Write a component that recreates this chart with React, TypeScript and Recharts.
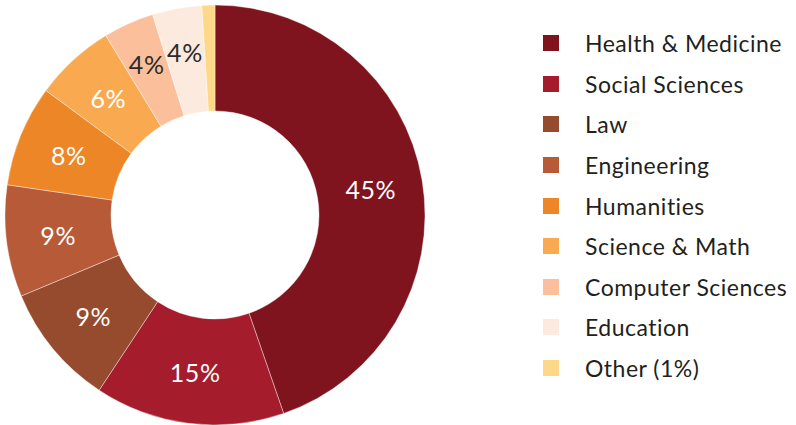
import { PieChart, Pie, Cell, Legend } from 'recharts'

const categories = [
  'Health & Medicine',
  'Social Sciences',
  'Law',
  'Engineering',
  'Humanities',
  'Science & Math',
  'Computer Sciences',
  'Education',
  'Other (1%)',
]
const shares = [44.7, 14.6, 9.4, 8.6, 7.8, 6.2, 3.9, 3.8, 1.0]
const sliceLabels = ['45%', '15%', '9%', '9%', '8%', '6%', '4%', '4%', '']
const colors = [
  '#7f141f',
  '#a51c2d',
  '#964a2e',
  '#b75a37',
  '#ec8626',
  '#f9aa50',
  '#fbc09b',
  '#fdeadf',
  '#fdd888',
]
const labelColors = ['#fff', '#fff', '#fff', '#fff', '#fff', '#fff', '#2b2b2b', '#2b2b2b', '#2b2b2b']

const data = categories.map((name, i) => ({ name, value: shares[i] }))

const FONT = 'Lato, "Open Sans", sans-serif'
const RAD = Math.PI / 180

function SliceLabel(props: any) {
  const { cx, cy, midAngle, index } = props
  const text = sliceLabels[index]
  if (!text) return null
  const r = index >= 6 ? 166 : 158
  const x = cx + r * Math.cos(-midAngle * RAD)
  const y = cy + r * Math.sin(-midAngle * RAD)
  return (
    <text
      x={x}
      y={y}
      fill={labelColors[index]}
      fontSize={25}
      letterSpacing={0.6}
      fontFamily={FONT}
      textAnchor="middle"
      dominantBaseline="central"
    >
      {text}
    </text>
  )
}

function LegendList() {
  return (
    <div style={{ fontFamily: FONT, fontSize: 23, letterSpacing: 0.5, color: '#231f20' }}>
      {categories.map((c, i) => (
        <div key={c} style={{ display: 'flex', alignItems: 'center', height: 40.6 }}>
          <span
            style={{
              display: 'inline-block',
              width: 16,
              height: 16,
              background: colors[i],
              marginRight: 26,
            }}
          />
          <span style={{ whiteSpace: 'nowrap' }}>{c}</span>
        </div>
      ))}
    </div>
  )
}

export default function App() {
  return (
    <div style={{ position: 'absolute', left: 0, top: 0, background: '#fff' }}>
      <PieChart width={796} height={425} margin={{ top: 0, right: 0, bottom: 0, left: 0 }}>
        <Pie
          data={data}
          dataKey="value"
          nameKey="name"
          cx={215}
          cy={215}
          innerRadius={104}
          outerRadius={210}
          startAngle={90}
          endAngle={-270}
          stroke="#fff"
          strokeWidth={0.4}
          label={SliceLabel}
          labelLine={false}
          isAnimationActive={false}
        >
          {data.map((d, i) => (
            <Cell key={d.name} fill={colors[i]} />
          ))}
        </Pie>
        <Legend
          layout="vertical"
          verticalAlign="top"
          align="right"
          content={() => <LegendList />}
          wrapperStyle={{ left: 543, top: 23, width: 253 }}
        />
      </PieChart>
    </div>
  )
}
